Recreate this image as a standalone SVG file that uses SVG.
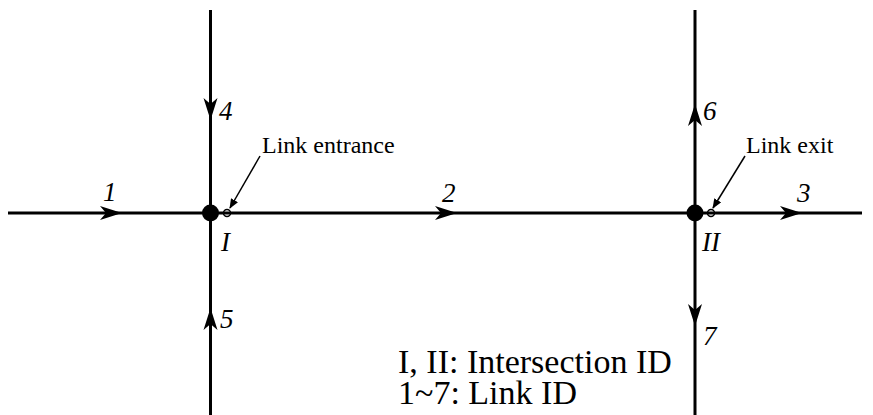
<svg xmlns="http://www.w3.org/2000/svg" xmlns:xlink="http://www.w3.org/1999/xlink" width="873" height="415" viewBox="0 0 873 415">
<style>
.ln{stroke:#000;stroke-width:3;fill:none}
.num{font-family:"Liberation Serif","Times New Roman",serif;font-style:italic;font-size:27px;fill:#000}
.lbl{font-family:"Liberation Serif","Times New Roman",serif;font-size:24px;fill:#000}
.leg{font-family:"Liberation Serif","Times New Roman",serif;font-size:34px;fill:#000}
.lead{stroke:#000;stroke-width:1.5;fill:none}
</style>
<defs>
<path id="ah" d="M0,0 L-22,-7 L-16,0 L-22,7 Z" fill="#000"/>
<marker id="sm" markerWidth="10" markerHeight="8" refX="9" refY="4" orient="auto" markerUnits="userSpaceOnUse"><path d="M0,0 L10,4 L0,8 Z" fill="#000"/></marker>
</defs>
<g id="connectors">
<line class="ln" x1="8" y1="213" x2="862" y2="213"/>
<line class="ln" x1="210.5" y1="10" x2="210.5" y2="415"/>
<line class="ln" x1="695" y1="10" x2="695" y2="415"/>
<use href="#ah" transform="translate(122,213)"/>
<use href="#ah" transform="translate(457,213)"/>
<use href="#ah" transform="translate(802,213)"/>
<use href="#ah" transform="translate(210.5,120) rotate(90)"/>
<use href="#ah" transform="translate(210.5,308) rotate(-90)"/>
<use href="#ah" transform="translate(695,104) rotate(-90)"/>
<use href="#ah" transform="translate(695,326) rotate(90)"/>
<line class="lead" x1="260" y1="156" x2="230" y2="208" marker-end="url(#sm)"/>
<line class="lead" x1="745" y1="156" x2="713" y2="208" marker-end="url(#sm)"/>
</g>
<g id="intersection-I">
<circle cx="210.5" cy="213" r="8.5" fill="#000"/>
<circle cx="227" cy="213" r="3.5" fill="none" stroke="#000" stroke-width="1.5"/>
<text class="num" x="221" y="251" font-size="30">I</text>
</g>
<g id="intersection-II">
<circle cx="695" cy="213" r="8.5" fill="#000"/>
<circle cx="711" cy="213" r="3.5" fill="none" stroke="#000" stroke-width="1.5"/>
<text class="num" x="702" y="251" font-size="30">II</text>
</g>
<g id="link-labels">
<text class="num" x="103" y="201">1</text>
<text class="num" x="442" y="202">2</text>
<text class="num" x="797" y="202">3</text>
<text class="num" x="219" y="120">4</text>
<text class="num" x="220" y="328">5</text>
<text class="num" x="703" y="120">6</text>
<text class="num" x="703" y="345">7</text>
</g>
<g id="annotations">
<text class="lbl" x="262" y="153">Link entrance</text>
<text class="lbl" x="746" y="153">Link exit</text>
</g>
<g id="legend">
<text class="leg" x="398" y="373">I, II: Intersection ID</text>
<text class="leg" x="398" y="404">1~7: Link ID</text>
</g>
</svg>
